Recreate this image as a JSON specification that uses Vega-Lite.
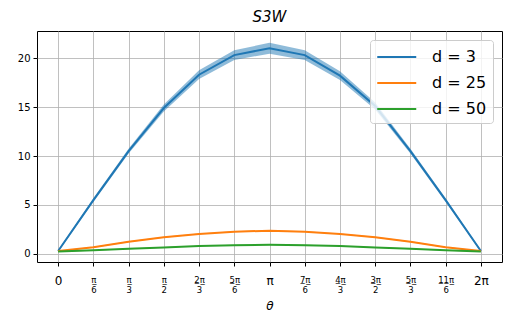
{
  "$schema": "https://vega.github.io/schema/vega-lite/v6.json",
  "autosize": "none",
  "width": 465,
  "height": 231,
  "padding": {"left": 37, "top": 31, "right": 10, "bottom": 65},
  "background": "white",
  "title": {"text": "S3W", "fontStyle": "italic", "fontSize": 15, "font": "DejaVu Sans", "fontWeight": "normal", "offset": 6, "color": "black"},
  "config": {
    "view": {"stroke": "black", "strokeWidth": 1},
    "font": "DejaVu Sans"
  },
  "data": {"values": [
    {"k":0,"d":"d = 3","y":0.3,"lo":0.2,"hi":0.4},
    {"k":1,"d":"d = 3","y":5.5,"lo":5.3,"hi":5.7},
    {"k":2,"d":"d = 3","y":10.5,"lo":10.25,"hi":10.75},
    {"k":3,"d":"d = 3","y":14.9,"lo":14.55,"hi":15.25},
    {"k":4,"d":"d = 3","y":18.3,"lo":17.85,"hi":18.75},
    {"k":5,"d":"d = 3","y":20.3,"lo":19.8,"hi":20.8},
    {"k":6,"d":"d = 3","y":21.0,"lo":20.45,"hi":21.55},
    {"k":7,"d":"d = 3","y":20.3,"lo":19.8,"hi":20.8},
    {"k":8,"d":"d = 3","y":18.2,"lo":17.75,"hi":18.65},
    {"k":9,"d":"d = 3","y":15.1,"lo":14.75,"hi":15.45},
    {"k":10,"d":"d = 3","y":10.5,"lo":10.25,"hi":10.75},
    {"k":11,"d":"d = 3","y":5.5,"lo":5.3,"hi":5.7},
    {"k":12,"d":"d = 3","y":0.3,"lo":0.2,"hi":0.4},
    {"k":0,"d":"d = 25","y":0.3,"lo":0.27,"hi":0.33},
    {"k":1,"d":"d = 25","y":0.68,"lo":0.63,"hi":0.73},
    {"k":2,"d":"d = 25","y":1.24,"lo":1.19,"hi":1.29},
    {"k":3,"d":"d = 25","y":1.7,"lo":1.65,"hi":1.75},
    {"k":4,"d":"d = 25","y":2.05,"lo":2.0,"hi":2.1},
    {"k":5,"d":"d = 25","y":2.28,"lo":2.23,"hi":2.33},
    {"k":6,"d":"d = 25","y":2.37,"lo":2.32,"hi":2.42},
    {"k":7,"d":"d = 25","y":2.28,"lo":2.23,"hi":2.33},
    {"k":8,"d":"d = 25","y":2.05,"lo":2.0,"hi":2.1},
    {"k":9,"d":"d = 25","y":1.7,"lo":1.65,"hi":1.75},
    {"k":10,"d":"d = 25","y":1.24,"lo":1.19,"hi":1.29},
    {"k":11,"d":"d = 25","y":0.68,"lo":0.63,"hi":0.73},
    {"k":12,"d":"d = 25","y":0.3,"lo":0.27,"hi":0.33},
    {"k":0,"d":"d = 50","y":0.25,"lo":0.22,"hi":0.28},
    {"k":1,"d":"d = 50","y":0.37,"lo":0.34,"hi":0.4},
    {"k":2,"d":"d = 50","y":0.52,"lo":0.49,"hi":0.55},
    {"k":3,"d":"d = 50","y":0.67,"lo":0.64,"hi":0.7},
    {"k":4,"d":"d = 50","y":0.81,"lo":0.78,"hi":0.84},
    {"k":5,"d":"d = 50","y":0.9,"lo":0.87,"hi":0.93},
    {"k":6,"d":"d = 50","y":0.93,"lo":0.9,"hi":0.96},
    {"k":7,"d":"d = 50","y":0.9,"lo":0.87,"hi":0.93},
    {"k":8,"d":"d = 50","y":0.81,"lo":0.78,"hi":0.84},
    {"k":9,"d":"d = 50","y":0.67,"lo":0.64,"hi":0.7},
    {"k":10,"d":"d = 50","y":0.52,"lo":0.49,"hi":0.55},
    {"k":11,"d":"d = 50","y":0.37,"lo":0.34,"hi":0.4},
    {"k":12,"d":"d = 50","y":0.25,"lo":0.22,"hi":0.28}
  ]},
  "encoding": {
    "x": {
      "field": "k", "type": "quantitative",
      "scale": {"domain": [-0.6, 12.6], "nice": false, "zero": false},
      "axis": {
        "values": [0,1,2,3,4,5,6,7,8,9,10,11,12],
        "title": "θ", "titleFontStyle": "italic", "titleFontWeight": "normal", "titleFontSize": 12, "titleColor": "black", "titlePadding": 7,
        "grid": true, "gridColor": "#b0b0b0", "gridWidth": 0.8,
        "domain": false, "tickColor": "black", "tickSize": 4,
        "labelColor": "black",
        "labelFontSize": {"condition": {"test": "datum.value % 6 == 0", "value": 12}, "value": 8.5},
        "labelLineHeight": 10,
        "labelPadding": 9,
        "labelExpr": "datum.value==0?'0':datum.value==6?'π':datum.value==12?'2π':[['','π̲','π̲','π̲','2̲π̲','5̲π̲','','7̲π̲','4̲π̲','3̲π̲','5̲π̲','1̲1̲π̲'][datum.value], ['','6','3','2','3','6','','6','3','2','3','6'][datum.value]]"
      }
    },
    "y": {
      "field": "y", "type": "quantitative",
      "scale": {"domain": [-0.82, 22.76], "nice": false, "zero": false},
      "axis": {
        "values": [0,5,10,15,20], "title": null,
        "grid": true, "gridColor": "#b0b0b0", "gridWidth": 0.8,
        "domain": false, "tickColor": "black", "tickSize": 4,
        "labelColor": "black", "labelFontSize": 10, "labelPadding": 3
      }
    },
    "color": {
      "field": "d", "type": "nominal",
      "scale": {"domain": ["d = 3","d = 25","d = 50"], "range": ["#1f77b4","#ff7f0e","#2ca02c"]},
      "legend": {
        "title": null, "orient": "top-right", "offset": 9,
        "symbolType": "M-1,0H3", "symbolStrokeWidth": 2, "symbolSize": 380, "symbolOpacity": 1,
        "labelFontSize": 16, "labelColor": "black", "labelOffset": 34,
        "rowPadding": 7, "padding": 6,
        "fillColor": "rgba(255,255,255,0.8)", "strokeColor": "#cccccc", "cornerRadius": 3
      }
    }
  },
  "layer": [
    {
      "mark": {"type": "area", "opacity": 0.5},
      "encoding": {
        "y": {"field": "lo", "type": "quantitative"},
        "y2": {"field": "hi"}
      }
    },
    {
      "mark": {"type": "line", "strokeWidth": 2},
      "encoding": {}
    }
  ]
}
